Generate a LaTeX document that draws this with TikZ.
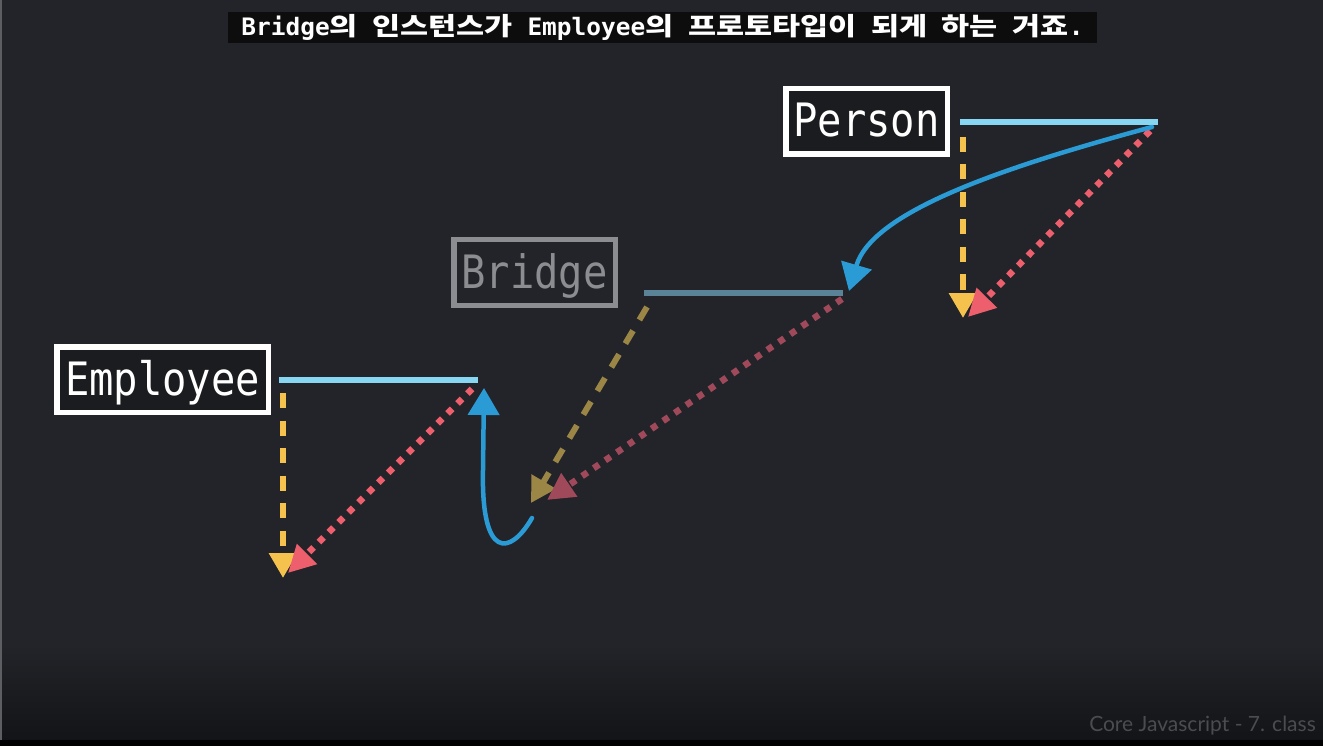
\documentclass[tikz,border=0pt]{standalone}
\usepackage{graphicx}
\usepackage{fontspec}
\setmainfont{DejaVu Sans Mono}
\newfontfamily\classfont{DejaVu Sans Mono}[FakeStretch=0.88]
\newfontfamily\capfont{DejaVu Sans Mono}[FakeStretch=0.835]
\newfontfamily\krfont{Noto Sans CJK KR}
\newfontfamily\footfont{Lato}
\usetikzlibrary{arrows.meta}
\newcommand{\kor}[1]{{\krfont\fontsize{25}{26}\selectfont #1}}

\definecolor{bgcol}{RGB}{34,36,41}
\definecolor{bgdark}{RGB}{19,20,23}
\definecolor{edgegray}{RGB}{93,94,98}
\definecolor{capbg}{RGB}{13,13,14}
\definecolor{boxfill}{RGB}{27,28,31}
\definecolor{protoblue}{RGB}{135,215,242}
\definecolor{bridgegray}{RGB}{140,141,145}
\definecolor{bridgeblue}{RGB}{91,131,151}
\definecolor{instyellow}{RGB}{245,194,77}
\definecolor{instred}{RGB}{238,95,110}
\definecolor{dimyellow}{RGB}{156,134,70}
\definecolor{dimred}{RGB}{160,73,90}
\definecolor{sketchblue}{RGB}{42,155,213}
\definecolor{footgray}{RGB}{74,76,80}

\begin{document}
\begin{tikzpicture}[x=1pt,y=-1pt,
  classbox/.style={draw, line width=5.5pt, minimum width=#1, minimum height=65.5pt,
    inner sep=0pt, text height=31pt, text depth=0pt,
    font=\classfont\fontsize{46}{46}\selectfont},
  protoline/.style={line width=6.5pt},
  dashedarrow/.style={line width=6pt, dash pattern=on 15pt off 12.5pt,
    -{Triangle[length=25pt,width=27pt]}},
  dottedarrow/.style={line width=6.5pt, dash pattern=on 6.5pt off 7.5pt,
    -{Triangle[length=27pt,width=27pt]}},
  sketch/.style={sketchblue, line width=4.5pt, line cap=round,
    -{Triangle[length=27pt,width=31pt]}}]
  \fill[bgcol] (0,0) rectangle (1323,746);
  \shade[top color=bgcol, bottom color=bgdark] (0,645) rectangle (1323,740);
  \fill[black] (0,740) rectangle (1323,746);
  \fill[edgegray] (0,0) rectangle (2,740);
  \useasboundingbox (0,0) rectangle (1323,746);

  \node[fill=capbg, minimum width=869pt, minimum height=31pt, inner sep=0pt, text=white,
    font=\capfont\bfseries\fontsize{24}{26}\selectfont] (caption) at (662.5,27.5)
    {\resizebox{842pt}{\height}{Bridge\kor{의} \kor{인스턴스가} Employee\kor{의} \kor{프로토타입이} \kor{되게} \kor{하는} \kor{거죠}.}};

  \node[classbox=161.5pt, draw=white, fill=boxfill, text=white] (person) at (866.5,121.5) {Person};
  \node[classbox=161.5pt, draw=bridgegray, text=bridgegray] (bridge) at (534.5,272.5) {Bridge};
  \node[classbox=211.5pt, draw=white, fill=boxfill, text=white] (employee) at (162.5,379.5) {Employee};

  \coordinate (personL) at (960,122);
  \coordinate (personR) at (1158,122);
  \coordinate (bridgeL) at (644,293);
  \coordinate (bridgeR) at (843,293);
  \coordinate (employeeL) at (279,380);
  \coordinate (employeeR) at (478,380);

  \draw[protoline, protoblue] (personL) -- (personR);
  \draw[protoline, bridgeblue] (bridgeL) -- (bridgeR);
  \draw[protoline, protoblue] (employeeL) -- (employeeR);

  \coordinate (personY) at (963,137);
  \coordinate (personYtip) at (963,318);
  \coordinate (personD) at (1150,131);
  \coordinate (personDtip) at (968,317);
  \draw[dashedarrow, instyellow] (personY) -- (personYtip);
  \draw[dottedarrow, instred] (personD) -- (personDtip);

  \coordinate (bridgeY) at (647,307);
  \coordinate (bridgeYtip) at (531,503);
  \coordinate (bridgeD) at (842,299);
  \coordinate (bridgeDtip) at (547,500);
  \draw[dashedarrow, dimyellow] (bridgeY) -- (bridgeYtip);
  \draw[dottedarrow, dimred] (bridgeD) -- (bridgeDtip);

  \coordinate (employeeY) at (283,393);
  \coordinate (employeeYtip) at (283,578);
  \coordinate (employeeD) at (472,389);
  \coordinate (employeeDtip) at (288,573);
  \draw[dashedarrow, instyellow] (employeeY) -- (employeeYtip);
  \draw[dottedarrow, instred] (employeeD) -- (employeeDtip);

  \coordinate (personS) at (1152,127);
  \coordinate (bridgeStip) at (849,291);
  \draw[sketch] (personS) .. controls (1000,168) and (872,212) .. (bridgeStip);
  \coordinate (bridgeS) at (532,518);
  \coordinate (employeeStip) at (484,388);
  \draw[sketch] (bridgeS) .. controls (510,556) and (481,560) .. (483,470) -- (employeeStip);

  \node[anchor=base east, inner sep=0pt, text=footgray,
    font=\footfont\fontsize{21}{21}\selectfont] (footer) at (1316,731) {Core Javascript - 7. class};
\end{tikzpicture}
\end{document}
